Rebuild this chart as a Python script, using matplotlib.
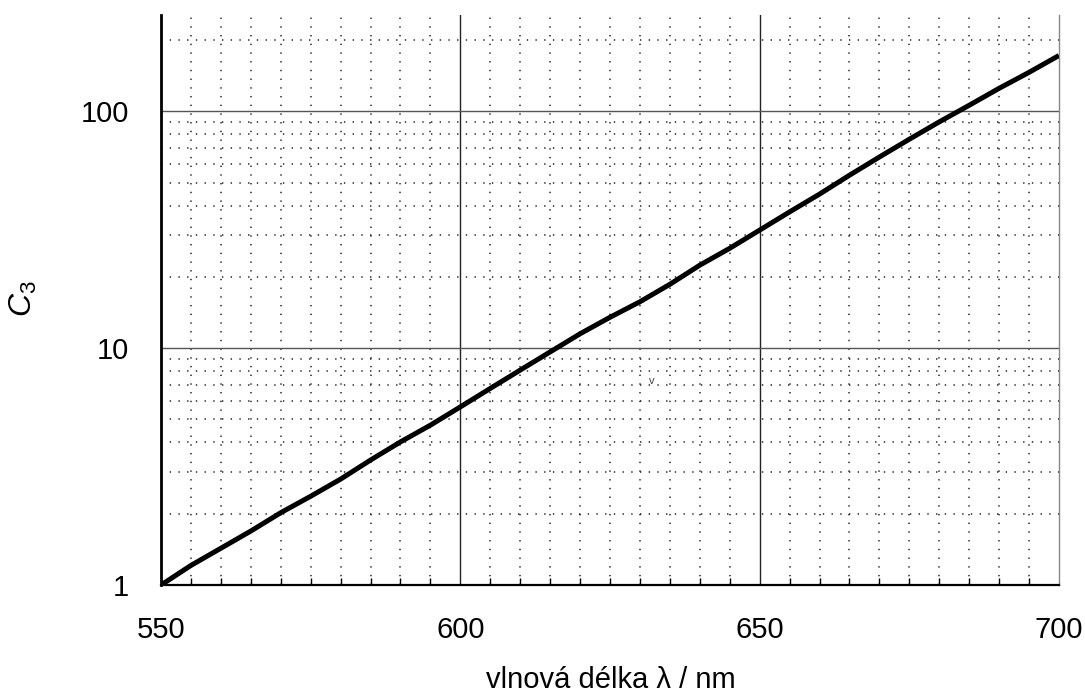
import matplotlib.pyplot as plt
from matplotlib.ticker import FixedLocator, NullFormatter, LogLocator

plt.rcParams['font.family'] = ['Liberation Sans', 'DejaVu Sans']
plt.rcParams['mathtext.fontset'] = 'custom'
plt.rcParams['mathtext.it'] = 'Liberation Sans:italic'
plt.rcParams['mathtext.rm'] = 'Liberation Sans'

# -------------------------------------------------
# data (every 5 nm)
# -------------------------------------------------
wavelength = [550, 555, 560, 565, 570, 575, 580, 585, 590, 595, 600,
              605, 610, 615, 620, 625, 630, 635, 640, 645, 650,
              655, 660, 665, 670, 675, 680, 685, 690, 695, 700]
c3 = [1.0, 1.21, 1.43, 1.69, 2.02, 2.37, 2.80, 3.37, 4.02, 4.73, 5.65,
      6.76, 8.08, 9.64, 11.5, 13.5, 15.7, 18.6, 22.4, 26.4, 31.5,
      37.6, 44.7, 53.7, 64.1, 76.2, 90.2, 106, 125, 146, 172]

x_major = [550, 600, 650, 700]
y_major = [1, 10, 100]
y_labels = ['1', '10', '100']

fig = plt.figure(figsize=(10.85, 6.94), dpi=100)
ax = fig.add_axes([0.1484, 0.157, 0.8276, 0.8214])

ax.plot(wavelength, c3, color='black', lw=3.6, solid_capstyle='butt', zorder=5)

ax.set_yscale('log')
ax.set_xlim(550, 700)
ax.set_ylim(1, 255)

ax.xaxis.set_major_locator(FixedLocator(x_major))
ax.xaxis.set_minor_locator(FixedLocator(list(range(555, 700, 5))))
ax.set_xticklabels([str(v) for v in x_major])
ax.yaxis.set_major_locator(FixedLocator(y_major))
ax.yaxis.set_minor_locator(LogLocator(base=10, subs=range(2, 10)))
ax.yaxis.set_minor_formatter(NullFormatter())
ax.set_yticklabels(y_labels)

# grids: solid majors, dotted minors
ax.grid(which='major', axis='x', color='#222222', lw=1.0, ls='-')
ax.grid(which='major', axis='y', color='#555555', lw=1.0, ls='-')
ax.grid(which='minor', color='#222222', lw=1.1, ls=(0, (0.9, 4.8)))
# hide the edge majors so they don't double the spines
for gl in ax.xaxis.get_gridlines()[::3]:
    gl.set_visible(False)
ax.yaxis.get_gridlines()[0].set_visible(False)

ax.tick_params(axis='x', which='major', direction='in', length=0, pad=22, labelsize=21)
ax.tick_params(axis='x', which='minor', direction='in', length=5, width=1)
ax.tick_params(axis='y', which='major', direction='in', length=0, pad=23, labelsize=21)
ax.tick_params(axis='y', which='minor', direction='in', length=0)

ax.spines['top'].set_visible(False)
ax.spines['left'].set_linewidth(2.0)
ax.spines['bottom'].set_linewidth(1.6)
ax.spines['right'].set_linewidth(1.0)
ax.spines['right'].set_color('#888888')

fig.text(0.022, 0.569, r'$C_3$', rotation=90, fontsize=23, ha='center', va='center')
fig.text(0.563, 0.02, 'vlnová délka λ / nm', fontsize=21, ha='center', va='center')
fig.text(0.601, 0.451, 'v', fontsize=8, ha='center', va='center', color='#444444')

fig.savefig('out.png', dpi=100)
